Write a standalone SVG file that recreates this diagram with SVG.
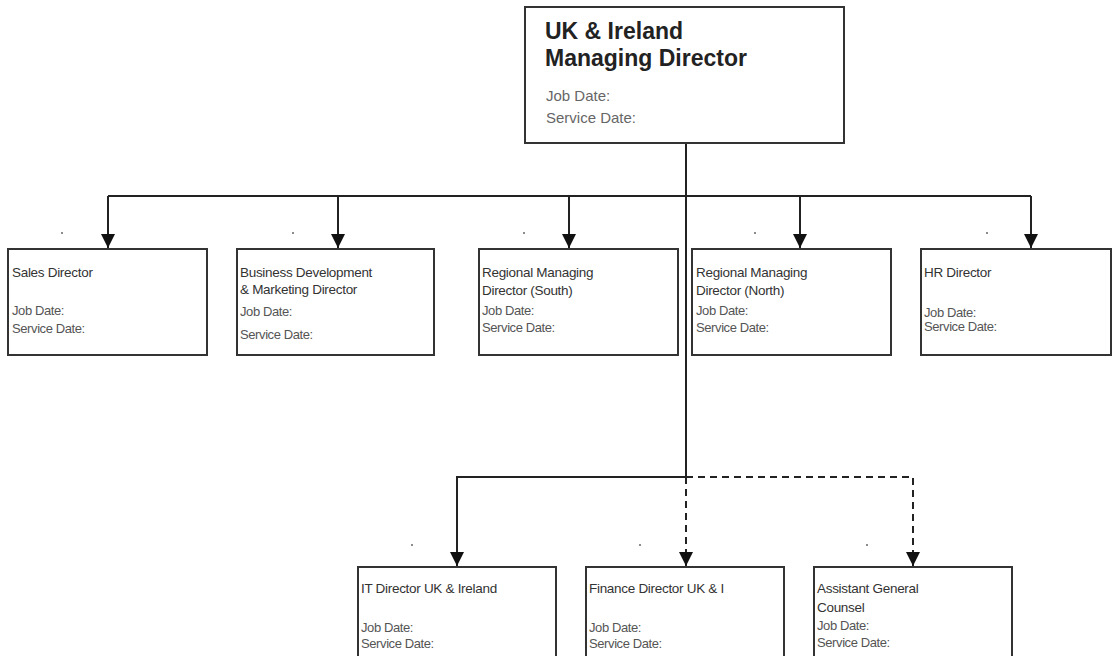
<svg xmlns="http://www.w3.org/2000/svg" width="1112" height="656" viewBox="0 0 1112 656">
<style>
.box{fill:#fff;stroke:#333;stroke-width:2}
.ln{fill:none;stroke:#222;stroke-width:2}
.dash{stroke-dasharray:7 5}
.t{font-family:"Liberation Sans",Arial,sans-serif;font-size:13.5px;fill:#333;letter-spacing:-0.3px}
.d{font-family:"Liberation Sans",Arial,sans-serif;font-size:13px;fill:#555;letter-spacing:-0.4px}
.h{font-family:"Liberation Sans",Arial,sans-serif;font-size:23px;fill:#222;font-weight:bold}
.hd{font-family:"Liberation Sans",Arial,sans-serif;font-size:15px;fill:#666}
.dot{fill:#666}
</style>
<defs>
<marker id="ah" viewBox="0 0 14 14" refX="14" refY="7" markerWidth="14" markerHeight="14" markerUnits="userSpaceOnUse" orient="auto">
<path d="M0,0 L14,7 L0,14 z" fill="#111"/>
</marker>
</defs>
<rect width="1112" height="656" fill="#fff"/>
<g id="connectors">
<path class="ln" d="M686,143 V477"/>
<path class="ln" d="M108,196 H1031"/>
<path class="ln" d="M108,196 V248" marker-end="url(#ah)"/>
<path class="ln" d="M338,196 V248" marker-end="url(#ah)"/>
<path class="ln" d="M569,196 V248" marker-end="url(#ah)"/>
<path class="ln" d="M800,196 V248" marker-end="url(#ah)"/>
<path class="ln" d="M1031,196 V248" marker-end="url(#ah)"/>
<path class="ln" d="M686,477 H457 V566" marker-end="url(#ah)"/>
<path class="ln dash" d="M686,477 V566" marker-end="url(#ah)"/>
<path class="ln dash" d="M686,477 H913 V566" marker-end="url(#ah)"/>
</g>
<g id="dots">
<circle class="dot" cx="62" cy="233" r="1"/>
<circle class="dot" cx="293" cy="233" r="1"/>
<circle class="dot" cx="524" cy="233" r="1"/>
<circle class="dot" cx="755" cy="233" r="1"/>
<circle class="dot" cx="987" cy="233" r="1"/>
<circle class="dot" cx="412" cy="545" r="1"/>
<circle class="dot" cx="640" cy="545" r="1"/>
<circle class="dot" cx="867" cy="545" r="1"/>
</g>
<g id="md">
<rect class="box" x="525" y="7" width="319" height="136"/>
<text class="h" x="545" y="39">UK &amp; Ireland</text>
<text class="h" x="545" y="66">Managing Director</text>
<text class="hd" x="546" y="101">Job Date:</text>
<text class="hd" x="546" y="123">Service Date:</text>
</g>
<g id="sales">
<rect class="box" x="8" y="249" width="199" height="106"/>
<text class="t" x="12" y="277">Sales Director</text>
<text class="d" x="12" y="315">Job Date:</text>
<text class="d" x="12" y="333">Service Date:</text>
</g>
<g id="bizdev">
<rect class="box" x="237" y="249" width="197" height="106"/>
<text class="t" x="240" y="277">Business Development</text>
<text class="t" x="240" y="294">&amp; Marketing Director</text>
<text class="d" x="240" y="316">Job Date:</text>
<text class="d" x="240" y="339">Service Date:</text>
</g>
<g id="south">
<rect class="box" x="479" y="249" width="199" height="106"/>
<text class="t" x="482" y="277">Regional Managing</text>
<text class="t" x="482" y="295">Director (South)</text>
<text class="d" x="482" y="315">Job Date:</text>
<text class="d" x="482" y="332">Service Date:</text>
</g>
<g id="north">
<rect class="box" x="692" y="249" width="199" height="106"/>
<text class="t" x="696" y="277">Regional Managing</text>
<text class="t" x="696" y="295">Director (North)</text>
<text class="d" x="696" y="315">Job Date:</text>
<text class="d" x="696" y="332">Service Date:</text>
</g>
<g id="hr">
<rect class="box" x="921" y="249" width="190" height="106"/>
<text class="t" x="924" y="277">HR Director</text>
<text class="d" x="924" y="317">Job Date:</text>
<text class="d" x="924" y="331">Service Date:</text>
</g>
<g id="it">
<rect class="box" x="358" y="567" width="198" height="95"/>
<text class="t" x="361" y="593">IT Director UK &amp; Ireland</text>
<text class="d" x="361" y="632">Job Date:</text>
<text class="d" x="361" y="648">Service Date:</text>
</g>
<g id="finance">
<rect class="box" x="586" y="567" width="198" height="95"/>
<text class="t" x="589" y="593">Finance Director UK &amp; I</text>
<text class="d" x="589" y="632">Job Date:</text>
<text class="d" x="589" y="648">Service Date:</text>
</g>
<g id="counsel">
<rect class="box" x="814" y="567" width="198" height="95"/>
<text class="t" x="817" y="593">Assistant General</text>
<text class="t" x="817" y="612">Counsel</text>
<text class="d" x="817" y="630">Job Date:</text>
<text class="d" x="817" y="647">Service Date:</text>
</g>
</svg>
